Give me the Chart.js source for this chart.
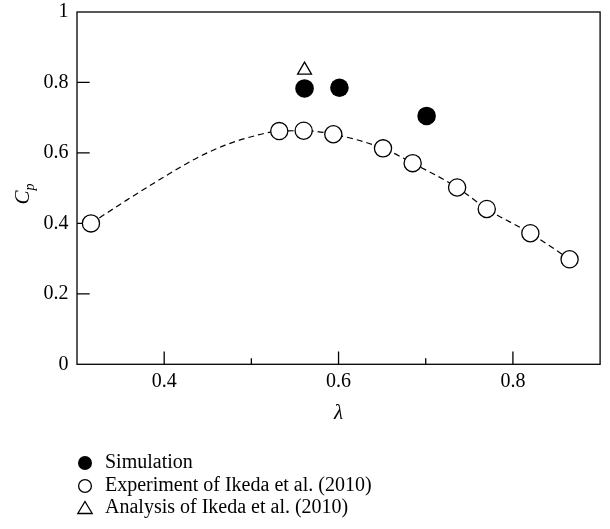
<!DOCTYPE html>
<html><head><meta charset="utf-8">
<script src="https://cdn.jsdelivr.net/npm/chart.js@4/dist/chart.umd.min.js"></script>
<style>
html,body{margin:0;padding:0;background:#fff;}
#wrap{position:relative;width:610px;height:529px;overflow:hidden;}
#c{position:absolute;left:0;top:0;}
.leg{position:absolute;left:105px;font:20px "Liberation Serif",serif;line-height:23px;color:#000;white-space:nowrap;}
.mk{position:absolute;}
#ytitle{position:absolute;width:60px;height:24px;line-height:24px;text-align:center;font:italic 21px "Liberation Serif",serif;color:#000;transform:rotate(-90deg);white-space:nowrap;}
#ytitle span{font-size:14px;position:relative;top:5px;}
</style></head><body>
<div id="wrap"><canvas id="c" width="610" height="529"></canvas>
<div id="ytitle">C<span>p</span></div>
<div id="legend"></div></div>
<script>
// Simulation (filled circles)
const simLambda = [0.561, 0.601, 0.701];
const simCp     = [0.783, 0.785, 0.705];
// Experiment of Ikeda et al. (2010) (open circles)
const expLambda = [0.316, 0.532, 0.560, 0.594, 0.651, 0.685, 0.736, 0.770, 0.820, 0.865];
const expCp     = [0.400, 0.662, 0.663, 0.653, 0.613, 0.571, 0.502, 0.441, 0.372, 0.298];
// Analysis of Ikeda et al. (2010) (open triangle)
const anaLambda = [0.561];
const anaCp     = [0.835];
// Dashed trend curve
const curveLambda = [0.316, 0.357, 0.40, 0.437, 0.47, 0.50, 0.532, 0.560, 0.594, 0.651, 0.685, 0.736, 0.770, 0.820, 0.865];
const curveCp     = [0.400, 0.466, 0.532, 0.585, 0.622, 0.646, 0.662, 0.663, 0.653, 0.613, 0.571, 0.502, 0.441, 0.372, 0.298];
// Axis ticks
const xTicks = [0.4, 0.6, 0.8];
const xMinorTicks = [0.5, 0.7];
const yTicks = [0, 0.2, 0.4, 0.6, 0.8, 1];
const yTickLabels = ['0', '0.2', '0.4', '0.6', '0.8', '1'];
const xTickLabels = ['0.4', '0.6', '0.8'];
const legendLabels = ['Simulation', 'Experiment of Ikeda et al. (2010)', 'Analysis of Ikeda et al. (2010)'];

const pts = (xs, ys) => xs.map((x, i) => ({x: x, y: ys[i]}));
const FONT = 'Liberation Serif';

const framePlugin = {
  id: 'frame',
  beforeDatasetsDraw(chart) {
    const {ctx, chartArea: a, scales: {x, y}} = chart;
    ctx.save();
    ctx.strokeStyle = '#000';
    ctx.lineWidth = 1.3;
    ctx.strokeRect(a.left, a.top, a.right - a.left, a.bottom - a.top);
    ctx.beginPath();
    xTicks.forEach(v => { const p = x.getPixelForValue(v); ctx.moveTo(p, a.bottom); ctx.lineTo(p, a.bottom - 12.7); });
    xMinorTicks.forEach(v => { const p = x.getPixelForValue(v); ctx.moveTo(p, a.bottom); ctx.lineTo(p, a.bottom - 6); });
    yTicks.slice(1, -1).forEach(v => { const p = y.getPixelForValue(v); ctx.moveTo(a.left, p); ctx.lineTo(a.left + 12.7, p); });
    ctx.stroke();
    ctx.restore();
  }
};

const chart = new Chart(document.getElementById('c'), {
  type: 'scatter',
  data: {
    datasets: [
      { label: 'curve', data: pts(curveLambda, curveCp), showLine: true, borderDash: [6, 4], borderColor: '#000', borderWidth: 1.2,
        pointRadius: 0, cubicInterpolationMode: 'monotone', order: 10 },
      { label: legendLabels[1], data: pts(expLambda, expCp), pointStyle: 'circle', pointRadius: 8.6, backgroundColor: '#fff',
        borderColor: '#000', borderWidth: 1.3, order: 3 },
      { label: legendLabels[0], data: pts(simLambda, simCp), pointStyle: 'circle', pointRadius: 9.3, backgroundColor: '#000',
        borderColor: '#000', borderWidth: 0, order: 2 },
      { label: legendLabels[2], data: pts(anaLambda, anaCp), pointStyle: 'triangle', pointRadius: 8, backgroundColor: '#fff',
        borderColor: '#000', borderWidth: 1.3, order: 1 }
    ]
  },
  options: {
    responsive: false, animation: false, devicePixelRatio: 1,
    layout: { padding: { top: 12, right: 5, bottom: 102.7, left: 0 } },
    plugins: { legend: { display: false }, tooltip: { enabled: false } },
    scales: {
      x: {
        type: 'linear', min: 0.3, max: 0.9,
        afterBuildTicks: s => { s.ticks = xTicks.map(v => ({value: v})); },
        afterFit: s => { s.height = 62; s.paddingLeft = 0; s.paddingRight = 0; },
        ticks: { color: '#000', font: { family: FONT, size: 20 }, padding: 5, maxRotation: 0, autoSkip: false,
          callback: (v) => xTickLabels[xTicks.indexOf(v)] },
        grid: { display: false, drawTicks: false },
        border: { display: false },
        title: { display: true, text: 'λ', color: '#000', font: { family: FONT, size: 21, style: 'italic' }, padding: { top: 0, bottom: 0 } }
      },
      y: {
        type: 'linear', min: 0, max: 1,
        afterBuildTicks: s => { s.ticks = yTicks.map(v => ({value: v})); },
        afterFit: s => { s.width = 77; s.paddingTop = 0; s.paddingBottom = 0; },
        ticks: { color: '#000', font: { family: FONT, size: 20 }, padding: 8.5, autoSkip: false,
          callback: (v) => yTickLabels[yTicks.indexOf(v)] },
        grid: { display: false, drawTicks: false },
        border: { display: false }
      }
    }
  },
  plugins: [framePlugin]
});

// y axis title, centred on the plot area
const a = chart.chartArea;
const yt = document.getElementById('ytitle');
yt.style.left = (22 - 30) + 'px';
yt.style.top = ((a.top + a.bottom) / 2 + 6 - 12) + 'px';

// legend
const leg = document.getElementById('legend');
const rowCenters = [463, 486, 508];
const markers = [
  '<svg class="mk" width="20" height="20" viewBox="0 0 20 20"><circle cx="10" cy="10" r="7" fill="#000"/></svg>',
  '<svg class="mk" width="20" height="20" viewBox="0 0 20 20"><circle cx="10" cy="10" r="6.4" fill="#fff" stroke="#000" stroke-width="1.3"/></svg>',
  '<svg class="mk" width="20" height="20" viewBox="0 0 20 20"><polygon points="10,3.5 17.2,15.5 2.8,15.5" fill="#fff" stroke="#000" stroke-width="1.3"/></svg>'
];
legendLabels.forEach((t, i) => {
  const m = document.createElement('div');
  m.innerHTML = markers[i];
  const svg = m.firstChild;
  svg.style.left = (84.5 - 10) + 'px';
  svg.style.top = (rowCenters[i] - 10) + 'px';
  leg.appendChild(svg);
  const d = document.createElement('div');
  d.className = 'leg';
  d.textContent = t;
  d.style.top = (rowCenters[i] + 5 - 18.3) + 'px';
  leg.appendChild(d);
});
</script>
</body></html>
